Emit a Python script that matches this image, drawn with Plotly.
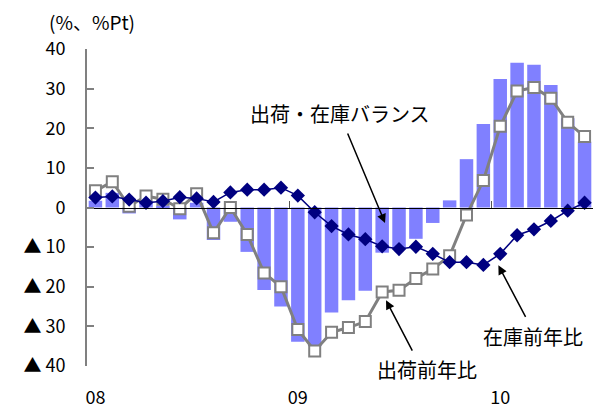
import plotly.graph_objects as go

# Monthly series, Jan 2008 – Jun 2010
months = [f"{y}-{m:02d}" for y in (2008, 2009, 2010) for m in range(1, 13)][:30]

# 出荷・在庫バランス (%Pt)
balance = [1.7, 3.7, -1.5, 1.6, 0.5, -3.0, 1.2, -8.2, -3.6, -11.2,
           -20.8, -25.0, -33.9, -35.0, -26.5, -23.4, -21.0, -11.4, -10.4, -7.9,
           -3.9, 1.8, 12.2, 21.1, 32.4, 36.5, 36.0, 30.9, 22.5, 16.6]
# 出荷前年比 (%)
shipments = [4.2, 6.5, 0.3, 2.9, 2.1, -0.3, 3.5, -6.4, 0.0, -6.8,
             -16.5, -20.0, -30.8, -36.2, -31.5, -30.3, -28.8, -21.3, -20.9, -17.9,
             -15.5, -12.2, -1.9, 6.8, 20.5, 29.4, 30.3, 27.6, 21.5, 17.9]
# 在庫前年比 (%)
inventory = [2.5, 2.8, 2.0, 1.2, 1.6, 2.6, 2.3, 1.4, 3.8, 4.5,
             4.5, 5.0, 3.0, -1.2, -4.7, -6.8, -8.0, -9.8, -10.5, -9.9,
             -11.7, -13.8, -13.8, -14.5, -11.7, -7.0, -5.5, -3.4, -0.8, 1.2]

year_labels = ["08", "09", "10"]
y_ticks = [40, 30, 20, 10, 0, -10, -20, -30, -40]
y_ticktext = ["40", "30", "20", "10", "0", "▲ 10", "▲ 20", "▲ 30", "▲ 40"]

x = list(range(len(months)))
jan_idx = [i for i, m in enumerate(months) if m.endswith("-01")]
year_bounds = [i - 0.5 for i in jan_idx]

FONT = "Noto Sans CJK JP"
BAR = "#8080FF"
GREY = "#808080"
NAVY = "#000080"

fig = go.Figure()
fig.add_trace(go.Bar(x=x, y=balance, marker=dict(color=BAR, line_width=0),
                     name="出荷・在庫バランス"))
fig.add_trace(go.Scatter(x=x, y=shipments, mode="lines+markers",
                         line=dict(color=GREY, width=3),
                         marker=dict(symbol="square", size=11, color="white",
                                     line=dict(color=GREY, width=2)),
                         name="出荷前年比"))
fig.add_trace(go.Scatter(x=x, y=inventory, mode="lines+markers",
                         line=dict(color=NAVY, width=1.5),
                         marker=dict(symbol="diamond", size=11, color=NAVY),
                         name="在庫前年比"))
# carrier trace for the axis drawn along y = 0
fig.add_trace(go.Scatter(x=[0], y=[0], xaxis="x2", mode="markers",
                         marker=dict(opacity=0), hoverinfo="skip", showlegend=False))

xr = [-0.5, len(months) - 0.5]
fig.update_layout(
    width=593, height=408,
    margin=dict(l=87, r=0, t=49, b=42),
    paper_bgcolor="white", plot_bgcolor="white",
    showlegend=False, bargap=0.2,
    font=dict(family=FONT, size=18, color="black"),
    xaxis=dict(range=xr, tickvals=jan_idx, ticktext=year_labels,
               showline=False, showgrid=False, zeroline=False,
               ticks="outside", ticklen=15, tickcolor="rgba(0,0,0,0)",
               tickfont=dict(size=18)),
    xaxis2=dict(range=xr, overlaying="x", anchor="free", position=0.5,
                side="bottom", tickvals=year_bounds, showticklabels=False,
                ticks="inside", ticklen=7, tickwidth=1, tickcolor="#555555",
                showline=True, linecolor="black", linewidth=1,
                showgrid=False, zeroline=False),
    yaxis=dict(range=[-40, 40], tickvals=y_ticks, ticktext=y_ticktext,
               showgrid=False, zeroline=False,
               showline=True, linecolor=GREY, linewidth=2,
               ticks="inside", ticklen=7, tickwidth=1.5, tickcolor=GREY,
               ticklabelstandoff=16, tickfont=dict(size=18)),
)

ann_font = dict(family=FONT, size=20, color="black")
fig.add_annotation(text="(%、%Pt)", xref="paper", yref="paper", x=-0.080, y=1.088,
                   xanchor="left", yanchor="middle", showarrow=False,
                   font=dict(family=FONT, size=19, color="black"))
# label arrows
for tx, ty, ax, ay in [(17.17, -3.9, -38, -91), (17.23, -23.4, 27, 52), (23.89, -14.6, 28, 53)]:
    fig.add_annotation(x=tx, y=ty, xref="x", yref="y", ax=ax, ay=ay, text="",
                       showarrow=True, arrowhead=2, arrowsize=1.2, arrowwidth=1.5,
                       arrowcolor="black")
fig.add_annotation(text="出荷・在庫バランス", x=14.5, y=23.6, xref="x", yref="y",
                   xanchor="center", yanchor="middle", showarrow=False, font=ann_font)
fig.add_annotation(text="出荷前年比", x=19.66, y=-0.010, xref="x", yref="paper",
                   xanchor="center", yanchor="middle", showarrow=False, font=ann_font)
fig.add_annotation(text="在庫前年比", x=25.95, y=-32.5, xref="x", yref="y",
                   xanchor="center", yanchor="middle", showarrow=False, font=ann_font)

fig.write_html("out.html")
